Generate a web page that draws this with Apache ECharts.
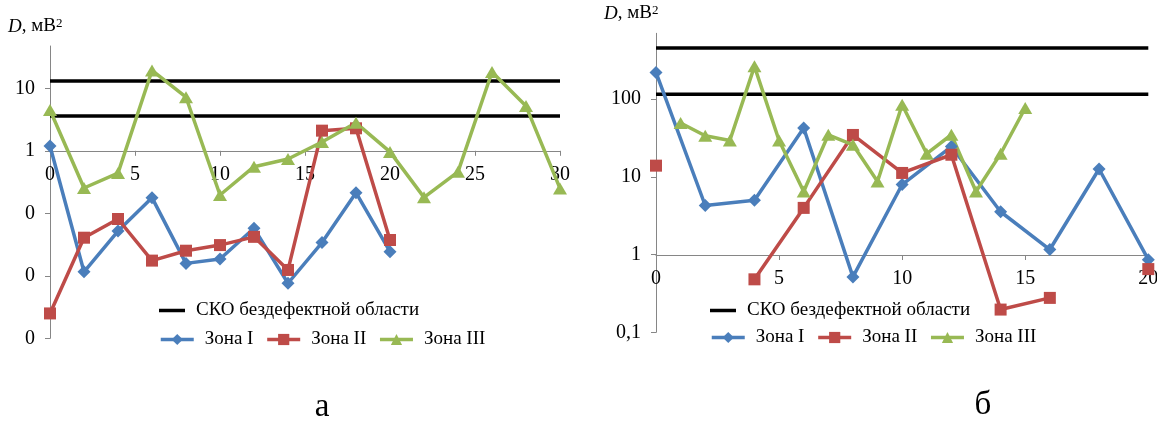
<!DOCTYPE html>
<html><head><meta charset="utf-8">
<script src="https://cdn.jsdelivr.net/npm/echarts@6/dist/echarts.min.js"></script>
<style>html,body{margin:0;padding:0;background:#fff}#c{width:1157px;height:421px}</style>
</head><body><div id="c"></div>
<script>
// ---------- Chart а ----------
const xA12 = [0, 2, 4, 6, 8, 10, 12, 14, 16, 18, 20];
const zone1A = [1.19, 0.0116, 0.052, 0.178, 0.0158, 0.0186, 0.0575, 0.0076, 0.034, 0.214, 0.0243];
const zone2A = [0.0025, 0.0407, 0.081, 0.0175, 0.0252, 0.031, 0.042, 0.0124, 2.1, 2.29, 0.0374];
const xA3 = [0, 2, 4, 6, 8, 10, 12, 14, 16, 18, 20, 22, 24, 26, 28, 30];
const zone3A = [4.5, 0.254, 0.44, 19.3, 7.2, 0.196, 0.557, 0.74, 1.38, 2.8, 0.96, 0.18, 0.46, 18.2, 5.2, 0.25];
const skoA = [13.1, 3.6];
const xRangeA = [0, 30];
const yTicksA = [0.001, 0.01, 0.1, 1, 10];

// ---------- Chart б ----------
const xB12 = [0, 2, 4, 6, 8, 10, 12, 14, 16, 18, 20];
const zone1B = [220, 4.27, 5.0, 42.4, 0.516, 7.95, 24.5, 3.55, 1.16, 12.6, 0.86];
const zone2B = [13.9, null, 0.48, 3.98, 34.5, 11.2, 19.2, 0.196, 0.277, null, 0.65];
const xB3 = [1, 2, 3, 4, 5, 6, 7, 8, 9, 10, 11, 12, 13, 14, 15];
const zone3B = [49.1, 33.7, 29.3, 263, 29.3, 6.47, 34.7, 25.8, 8.7, 84.5, 19.8, 34.7, 6.47, 19.8, 76.6];
const skoB = [453, 115];
const xRangeB = [0, 20];
const yTicksB = [0.1, 1, 10, 100];

const names = ['СКО бездефектной области', 'Зона I', 'Зона II', 'Зона III'];
const FONT = "'Liberation Serif', 'Times New Roman', serif";
const AX = '#868686';
const C1 = '#4A7EBB', C2 = '#BE4B48', C3 = '#98B954';

const pairs = (xs, vs) => xs.map((x, i) => [x, vs[i] == null ? '-' : vs[i]]);
const isPow10 = v => { const l = Math.log10(v); return Math.abs(l - Math.round(l)) < 1e-6; };

function zoneSeries(idx, xs, vs, name, color, symbol, size) {
  return {
    type: 'line', name, xAxisIndex: idx, yAxisIndex: idx,
    data: pairs(xs, vs), symbol, symbolSize: size, showSymbol: true,
    lineStyle: { color, width: 3.5 }, itemStyle: { color },
    connectNulls: false, clip: false, animation: false
  };
}
function skoSeries(idx, range, v) {
  return {
    type: 'line', name: names[0], xAxisIndex: idx, yAxisIndex: idx,
    data: [[range[0], v], [range[1], v]], symbol: 'none',
    lineStyle: { color: '#000', width: 3.5 }, itemStyle: { color: '#000' }, animation: false
  };
}

const hiddenY = (gi) => ({ type: 'value', gridIndex: gi, show: false, min: 0, max: 1 });
const visX = (gi, range) => ({
  type: 'value', gridIndex: gi, min: range[0], max: range[1], interval: 5,
  axisLine: { show: true, lineStyle: { color: AX, width: 1 } },
  axisTick: { show: true, length: 5, lineStyle: { color: AX } },
  axisLabel: { color: '#000', fontSize: 20, fontFamily: FONT, margin: 14 },
  splitLine: { show: false }
});
const logY = (gi, min, max, ticks, fmt) => ({
  type: 'log', logBase: 10, gridIndex: gi, min, max,
  axisLine: { show: true, lineStyle: { color: AX, width: 1 } },
  axisTick: { show: true, length: 5, lineStyle: { color: AX }, customValues: ticks },
  axisLabel: { color: '#000', fontSize: 20, fontFamily: FONT, margin: 15, customValues: ticks,
    formatter: v => isPow10(v) ? fmt(v) : '' },
  splitLine: { show: false }, minorTick: { show: false }
});

const legendText = { color: '#000', fontSize: 19, fontFamily: FONT, padding: [0, 0, 0, 6] };
const skoLegend = (left, top) => ({
  data: [{ name: names[0], icon: 'rect' }], left, top, itemWidth: 26, itemHeight: 3.5,
  itemStyle: { color: '#000' }, textStyle: legendText, selectedMode: false
});
const zoneLegend = (left, top) => ({
  data: names.slice(1), left, top, itemWidth: 33, itemHeight: 14, itemGap: 12,
  lineStyle: { width: 3.5 }, textStyle: legendText, selectedMode: false
});

const titleStyle = {
  text: '{i|D}, мВ{s|2}', fontSize: 19, fontFamily: FONT, fill: '#000',
  rich: {
    i: { fontStyle: 'italic', fontSize: 19, fontFamily: FONT },
    s: { fontSize: 13, fontFamily: FONT, verticalAlign: 'top' }
  }
};

const option = {
  animation: false,
  backgroundColor: '#fff',
  grid: [
    { left: 50, top: 46, width: 510, height: 292.3, outerBoundsMode: 'none' },
    { left: 50, top: 46, width: 510, height: 104.8, outerBoundsMode: 'none' },
    { left: 656, top: 33.3, width: 492.3, height: 299, outerBoundsMode: 'none' },
    { left: 656, top: 33.3, width: 492.3, height: 221.7, outerBoundsMode: 'none' }
  ],
  xAxis: [
    { type: 'value', gridIndex: 0, min: xRangeA[0], max: xRangeA[1], show: false },
    visX(1, xRangeA),
    { type: 'value', gridIndex: 2, min: xRangeB[0], max: xRangeB[1], show: false },
    visX(3, xRangeB)
  ],
  yAxis: [
    logY(0, 0.001, 47.5, yTicksA, v => String(Math.round(v))),
    hiddenY(1),
    logY(2, 0.1, 700, yTicksB, v => v < 1 ? String(v).replace('.', ',') : String(Math.round(v))),
    hiddenY(3)
  ],
  legend: [
    skoLegend(154, 296),
    zoneLegend(154, 325),
    skoLegend(705, 296),
    zoneLegend(705, 323)
  ],
  series: [
    skoSeries(0, xRangeA, skoA[0]),
    skoSeries(0, xRangeA, skoA[1]),
    zoneSeries(0, xA12, zone1A, names[1], C1, 'diamond', 13),
    zoneSeries(0, xA12, zone2A, names[2], C2, 'rect', 12),
    zoneSeries(0, xA3, zone3A, names[3], C3, 'triangle', [14, 12]),
    skoSeries(2, xRangeB, skoB[0]),
    skoSeries(2, xRangeB, skoB[1]),
    zoneSeries(2, xB12, zone1B, names[1], C1, 'diamond', 13),
    zoneSeries(2, xB12, zone2B, names[2], C2, 'rect', 12),
    zoneSeries(2, xB3, zone3B, names[3], C3, 'triangle', [14, 12])
  ],
  graphic: [
    { type: 'text', left: 8, top: 17, style: titleStyle },
    { type: 'text', left: 604, top: 4, style: titleStyle },
    { type: 'text', x: 322, y: 407, style: { text: 'а', fontSize: 33, fontFamily: FONT, fill: '#000', align: 'center', verticalAlign: 'middle' } },
    { type: 'text', x: 983, y: 405, style: { text: 'б', fontSize: 33, fontFamily: FONT, fill: '#000', align: 'center', verticalAlign: 'middle' } }
  ]
};

const chart = echarts.init(document.getElementById('c'), null, { renderer: 'canvas' });
chart.setOption(option);
</script>
</body></html>
